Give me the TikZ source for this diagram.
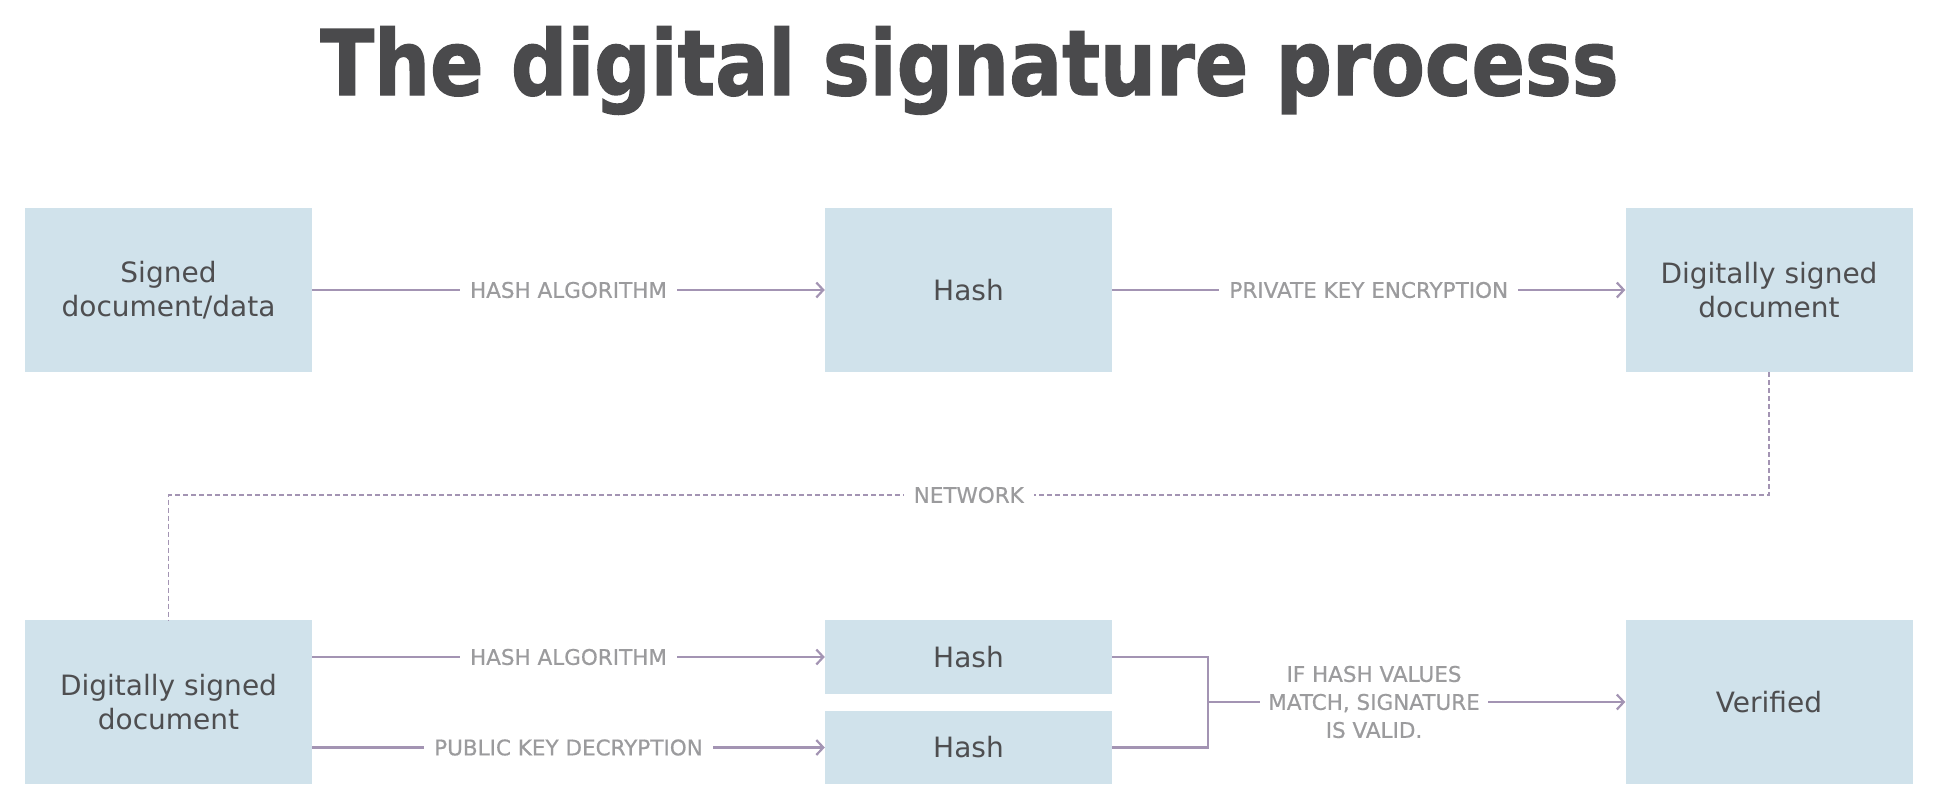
\documentclass[tikz,border=0pt]{standalone}
\usepackage{fontspec}
\setmainfont{DejaVu Sans}
\newfontface\titlefont[FakeBold=1.6]{DejaVu Sans Bold}
\newfontface\lblfont[FakeBold=0.6]{DejaVu Sans}
\usetikzlibrary{arrows.meta}
\definecolor{boxfill}{HTML}{D0E2EB}
\definecolor{boxtext}{HTML}{4E4E50}
\definecolor{lbltext}{HTML}{9B9B9D}
\definecolor{linec}{HTML}{A394B3}
\definecolor{titlec}{HTML}{4A4A4C}
\tikzset{
  stepbox/.style={rectangle, fill=boxfill, inner sep=0pt, minimum width=287pt,
    align=center, text=boxtext, font=\fontsize{28}{34}\selectfont},
  tallbox/.style={stepbox, minimum height=164pt},
  shortbox/.style={stepbox, minimum height=73.5pt},
  lbl/.style={fill=white, inner xsep=10pt, inner ysep=2pt, text=lbltext, align=center,
    font=\lblfont\fontsize{21.5}{28}\selectfont},
  conn/.style={draw=linec, line width=2.5pt},
  arr/.style={conn, -{Straight Barb[length=7pt,width=15pt,line width=2.2pt]}},
  net/.style={draw=linec, line width=1.6pt, dash pattern=on 5pt off 3pt},
}
\begin{document}
\begin{tikzpicture}[x=1pt,y=-1pt]
\useasboundingbox (0,0) rectangle (1951,806);
\node[anchor=base, text=titlec, inner sep=0pt] (title) at (969.5,95)
  {\scalebox{0.87}[1]{\titlefont\fontsize{90.5}{90.5}\selectfont The digital signature process}};
% top row
\node[tallbox] (b1) at (168.5,290) {Signed\\document/data};
\node[tallbox] (h1) at (968.5,290) {Hash};
\node[tallbox] (b3) at (1769,290) {Digitally signed\\document};
% bottom row
\node[tallbox] (b4) at (168.5,702) {Digitally signed\\document};
\node[shortbox] (hA) at (968.5,657) {Hash};
\node[shortbox] (hB) at (968.5,747.5) {Hash};
\node[tallbox] (ver) at (1769,702) {Verified};
\coordinate (br) at (1208,702);
\coordinate (nl) at (168.5,495);
\coordinate (nr) at (1769,495);
% connectors
\draw[arr] (b1.east) -- node[lbl]{HASH ALGORITHM} (h1.west);
\draw[arr] (h1.east) -- node[lbl]{PRIVATE KEY ENCRYPTION} (b3.west);
\draw[net] (b3.south) -- (nr) -- node[lbl]{NETWORK} (nl) -- (b4.north);
\draw[arr] (b4.east |- hA.west) -- node[lbl]{HASH ALGORITHM} (hA.west);
\draw[arr] (b4.east |- hB.west) -- node[lbl]{PUBLIC KEY DECRYPTION} (hB.west);
\draw[conn] (hA.east) -| (br) |- (hB.east);
\draw[arr] (br) -- (ver.west);
\node[lbl, inner xsep=8pt] (match) at (1374,702) {IF HASH VALUES\\MATCH, SIGNATURE\\IS VALID.};
\end{tikzpicture}
\end{document}
